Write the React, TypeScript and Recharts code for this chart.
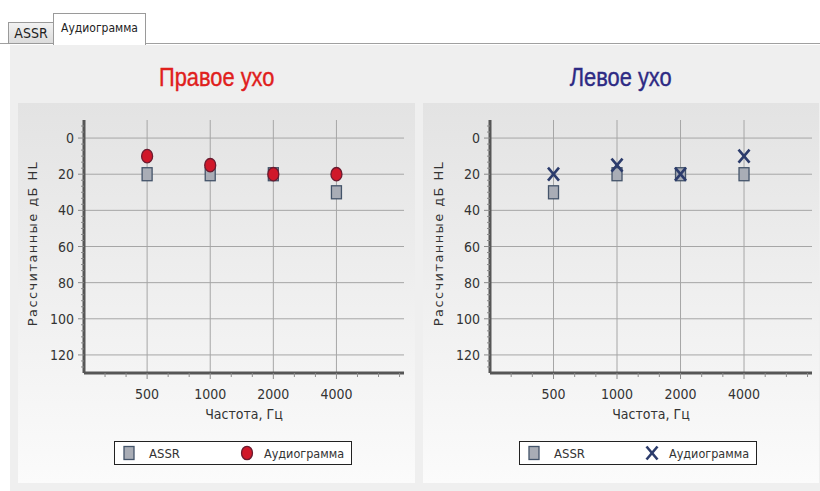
import React from 'react';
import { ScatterChart, Scatter, XAxis, YAxis, CartesianGrid, Legend } from 'recharts';

// ---- data ----
const FREQS = [500, 1000, 2000, 4000];
const RIGHT_ASSR = [20, 20, 20, 30];
const RIGHT_AUDIO = [10, 15, 20, 20];
const LEFT_ASSR = [30, 20, 20, 20];
const LEFT_AUDIO = [20, 15, 20, 10];
const Y_MAJOR = [0, 20, 40, 60, 80, 100, 120];
const SERIES_NAMES = ['ASSR', 'Аудиограмма'];
const TITLES = ['Правое ухо', 'Левое ухо'];
const Y_LABEL = 'Рассчитанные дБ HL';
const X_LABEL = 'Частота, Гц';
const TAB_LABELS = ['ASSR', 'Аудиограмма'];

const X_MINOR: number[] = [];
for (let k = 1; k <= 15; k++) X_MINOR.push(250 * Math.pow(2, k / 3));
const Y_MINOR: number[] = [];
for (let k = -2; k <= 38; k++) Y_MINOR.push(Math.round((k * 20) / 6 * 1000) / 1000);

const FONT = "'DejaVu Sans Condensed', 'Liberation Sans', sans-serif";
const TITLE_FONT = "'Liberation Sans', Arial, sans-serif";
const TXT = '#333';

const SquareMark = (p: any) => (
  <rect x={p.cx - 5} y={p.cy - 6.5} width={10} height={13} fill="#a9adb6" stroke="#44546a" strokeWidth={1.3} />
);
const CircleMark = (p: any) => (
  <ellipse cx={p.cx} cy={p.cy} rx={5.5} ry={6.7} fill="#d0182a" stroke="#6b1c30" strokeWidth={1.3} />
);
const CrossMark = (p: any) => (
  <g stroke="#2c3c6c" strokeWidth={2.6} strokeLinecap="butt">
    <line x1={p.cx - 5.5} y1={p.cy - 6.5} x2={p.cx + 5.5} y2={p.cy + 6.5} />
    <line x1={p.cx + 5.5} y1={p.cy - 6.5} x2={p.cx - 5.5} y2={p.cy + 6.5} />
  </g>
);

const XTick = (p: any) => {
  const v = p.payload.value;
  const major = FREQS.some((f) => Math.abs(f - v) < 1);
  return (
    <g>
      <line x1={p.x} x2={p.x} y1={p.y} y2={p.y + (major ? 6 : 4)} stroke="#8a8a8a" strokeWidth={1} />
      {major && (
        <text x={p.x} y={p.y + 26} textAnchor="middle" fontSize={14} fill={TXT} fontFamily={FONT}>
          {Math.round(v)}
        </text>
      )}
    </g>
  );
};

const YTick = (p: any) => {
  const v = p.payload.value;
  const major = Y_MAJOR.some((m) => Math.abs(m - v) < 0.01);
  return (
    <g>
      <line x1={p.x - (major ? 6 : 3)} x2={p.x} y1={p.y} y2={p.y} stroke="#8a8a8a" strokeWidth={1} />
      {major && (
        <text x={p.x - 10} y={p.y + 5} textAnchor="end" fontSize={14} fill={TXT} fontFamily={FONT}>
          {v}
        </text>
      )}
    </g>
  );
};

function EarChart(props: any) {
  const { left, width, plotLeft, plotRight, assr, audio, audioShape, title, titleColor } = props;
  const assrData = FREQS.map((f, i) => ({ f, v: assr[i] }));
  const audioData = FREQS.map((f, i) => ({ f, v: audio[i] }));
  const AudioShape = audioShape;
  return (
    <>
      <div
        style={{
          position: 'absolute', left, top: 62, width, textAlign: 'center',
          fontFamily: TITLE_FONT, fontSize: 26, color: titleColor, lineHeight: '30px',
        }}
      >
        <span style={{ display: 'inline-block', transform: 'scaleX(0.84)', WebkitTextStroke: `0.4px ${titleColor}` }}>
          {title}
        </span>
      </div>
      <div
        style={{
          position: 'absolute', left, top: 103, width, height: 380,
          background: 'linear-gradient(#e3e3e3, #fbfbfb)',
        }}
      >
        <ScatterChart
          width={width}
          height={380}
          margin={{ top: 17, right: plotRight, bottom: 80, left: plotLeft - 50 }}
        >
          <CartesianGrid
            horizontalValues={Y_MAJOR}
            verticalValues={FREQS}
            stroke="#a6a6a6"
            strokeWidth={1}
          />
          <XAxis
            type="number"
            dataKey="f"
            scale="log"
            domain={[250, 8400]}
            allowDataOverflow
            ticks={X_MINOR}
            interval={0}
            height={30}
            tickSize={0}
            tickMargin={0}
            tickLine={false}
            tick={<XTick />}
            axisLine={{ stroke: '#565656', strokeWidth: 3 }}
            label={{
              content: (lp: any) => (
                <text
                  x={lp.viewBox.x + lp.viewBox.width / 2}
                  y={lp.viewBox.y + 46}
                  textAnchor="middle"
                  fontSize={14}
                  fill={TXT}
                  fontFamily={FONT}
                >
                  {X_LABEL}
                </text>
              ),
            }}
          />
          <YAxis
            type="number"
            dataKey="v"
            reversed
            domain={[-10, 130]}
            allowDataOverflow
            ticks={Y_MINOR}
            interval={0}
            width={50}
            tickSize={0}
            tickMargin={0}
            tickLine={false}
            tick={<YTick />}
            axisLine={{ stroke: '#565656', strokeWidth: 3 }}
            label={{
              content: (lp: any) => {
                const cx = plotLeft - 47;
                const cy = lp.viewBox.y + lp.viewBox.height / 2 - 3;
                return (
                  <text
                    x={cx}
                    y={cy}
                    transform={`rotate(-90 ${cx} ${cy})`}
                    textAnchor="middle"
                    fontSize={13}
                    letterSpacing={1.4}
                    fill={TXT}
                    fontFamily="'DejaVu Sans', sans-serif"
                  >
                    {Y_LABEL}
                  </text>
                );
              },
            }}
          />
          <Legend
            verticalAlign="middle"
            layout="horizontal"
            wrapperStyle={{ position: 'absolute', left: 96, top: 338, width: 238, height: 24 }}
            content={() => (
              <div
                style={{
                  position: 'relative', width: 236, height: 22, border: '1px solid #222',
                  background: '#fff',
                }}
              >
                <svg width={236} height={22} style={{ position: 'absolute', left: 0, top: 0 }}>
                  <SquareMark cx={14} cy={11} />
                  <AudioShape cx={132} cy={11} />
                  <text x={34} y={16} fontSize={13} fill={TXT} fontFamily={FONT}>{SERIES_NAMES[0]}</text>
                  <text x={149} y={16} fontSize={12.5} fill={TXT} fontFamily={FONT}>{SERIES_NAMES[1]}</text>
                </svg>
              </div>
            )}
          />
          <Scatter name={SERIES_NAMES[0]} data={assrData} shape={<SquareMark />} isAnimationActive={false} />
          <Scatter name={SERIES_NAMES[1]} data={audioData} shape={<AudioShape />} isAnimationActive={false} />
        </ScatterChart>
      </div>
    </>
  );
}

export default function App() {
  return (
    <div
      style={{
        position: 'absolute', left: 0, top: 0, width: 820, height: 491,
        background: '#fff', overflow: 'hidden', fontFamily: FONT,
      }}
    >
      {/* tabs */}
      <div style={{ position: 'absolute', left: 0, top: 43, width: 820, height: 1, background: '#a0a0a0' }} />
      <div
        style={{
          position: 'absolute', left: 8, top: 22, width: 44, height: 20,
          background: 'linear-gradient(#f2f2f2, #dcdcdc)', border: '1px solid #9a9a9a',
          fontSize: 14, color: '#222', textAlign: 'center', lineHeight: '20px',
        }}
      >
        {TAB_LABELS[0]}
      </div>
      <div
        style={{
          position: 'absolute', left: 53, top: 13, width: 91, height: 31,
          background: '#fff', border: '1px solid #9a9a9a', borderBottom: 'none',
          fontSize: 12, color: '#222', textAlign: 'center', lineHeight: '28px',
        }}
      >
        {TAB_LABELS[1]}
      </div>
      {/* content area */}
      <div style={{ position: 'absolute', left: 10, top: 45, width: 810, height: 446, background: '#efefef' }} />
      <EarChart
        left={18}
        width={397}
        plotLeft={66}
        plotRight={11}
        assr={RIGHT_ASSR}
        audio={RIGHT_AUDIO}
        audioShape={CircleMark}
        title={TITLES[0]}
        titleColor="#e0201c"
      />
      <EarChart
        left={423}
        width={396}
        plotLeft={67}
        plotRight={7}
        assr={LEFT_ASSR}
        audio={LEFT_AUDIO}
        audioShape={CrossMark}
        title={TITLES[1]}
        titleColor="#2d2a84"
      />
    </div>
  );
}
